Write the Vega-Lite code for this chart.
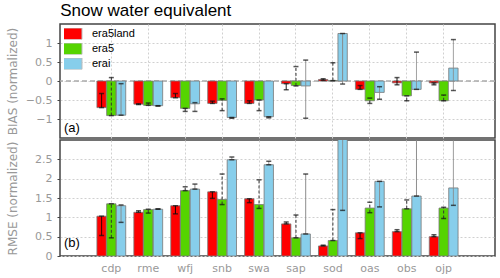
{
  "$schema": "https://vega.github.io/schema/vega-lite/v6.json",
  "padding": {"left": 5, "top": 2, "right": 4, "bottom": 4},
  "title": {"text": "Snow water equivalent", "anchor": "start", "font": "Liberation Sans", "fontSize": 17, "fontWeight": "normal", "color": "#000", "offset": 3, "dx": 55},
  "datasets": {
    "bias": [
      {"site": "cdp", "model": "era5land", "value": -0.70, "lo": -0.70, "hi": -0.33},
      {"site": "cdp", "model": "era5", "value": -0.91, "lo": -0.91, "hi": 0.09},
      {"site": "cdp", "model": "erai", "value": -0.90, "lo": -0.90, "hi": -0.07},
      {"site": "rme", "model": "era5land", "value": -0.61, "lo": -0.62, "hi": -0.60},
      {"site": "rme", "model": "era5", "value": -0.64, "lo": -0.64, "hi": -0.58},
      {"site": "rme", "model": "erai", "value": -0.65, "lo": -0.66, "hi": -0.65},
      {"site": "wfj", "model": "era5land", "value": -0.44, "lo": -0.44, "hi": -0.33},
      {"site": "wfj", "model": "era5", "value": -0.72, "lo": -0.80, "hi": -0.72},
      {"site": "wfj", "model": "erai", "value": -0.60, "lo": -0.80, "hi": -0.57},
      {"site": "snb", "model": "era5land", "value": -0.59, "lo": -0.59, "hi": -0.53},
      {"site": "snb", "model": "era5", "value": -0.51, "lo": -0.78, "hi": -0.47},
      {"site": "snb", "model": "erai", "value": -0.96, "lo": -0.98, "hi": -0.96},
      {"site": "swa", "model": "era5land", "value": -0.59, "lo": -0.59, "hi": -0.52},
      {"site": "swa", "model": "era5", "value": -0.50, "lo": -0.78, "hi": -0.50},
      {"site": "swa", "model": "erai", "value": -0.94, "lo": -0.97, "hi": -0.94},
      {"site": "sap", "model": "era5land", "value": -0.07, "lo": -0.23, "hi": -0.07},
      {"site": "sap", "model": "era5", "value": -0.12, "lo": -0.13, "hi": 0.38},
      {"site": "sap", "model": "erai", "value": -0.13, "lo": -0.98, "hi": 0.55},
      {"site": "sod", "model": "era5land", "value": 0.04, "lo": 0.02, "hi": 0.06},
      {"site": "sod", "model": "era5", "value": 0.01, "lo": 0.01, "hi": 0.48},
      {"site": "sod", "model": "erai", "value": 1.25, "lo": -0.08, "hi": 1.25},
      {"site": "oas", "model": "era5land", "value": -0.22, "lo": -0.22, "hi": -0.12},
      {"site": "oas", "model": "era5", "value": -0.52, "lo": -0.59, "hi": -0.45},
      {"site": "oas", "model": "erai", "value": -0.30, "lo": -0.48, "hi": -0.15},
      {"site": "obs", "model": "era5land", "value": -0.05, "lo": -0.10, "hi": 0.09},
      {"site": "obs", "model": "era5", "value": -0.39, "lo": -0.52, "hi": -0.39},
      {"site": "obs", "model": "erai", "value": -0.22, "lo": -0.22, "hi": 0.76},
      {"site": "ojp", "model": "era5land", "value": -0.05, "lo": -0.10, "hi": -0.05},
      {"site": "ojp", "model": "era5", "value": -0.52, "lo": -0.52, "hi": -0.37},
      {"site": "ojp", "model": "erai", "value": 0.34, "lo": -0.25, "hi": 1.09}
    ],
    "rmse": [
      {"site": "cdp", "model": "era5land", "value": 1.03, "lo": 0.53, "hi": 1.03},
      {"site": "cdp", "model": "era5", "value": 1.35, "lo": 0.47, "hi": 1.35},
      {"site": "cdp", "model": "erai", "value": 1.30, "lo": 0.87, "hi": 1.32},
      {"site": "rme", "model": "era5land", "value": 1.13, "lo": 1.13, "hi": 1.17},
      {"site": "rme", "model": "era5", "value": 1.20, "lo": 1.11, "hi": 1.21},
      {"site": "rme", "model": "erai", "value": 1.21, "lo": 1.21, "hi": 1.22},
      {"site": "wfj", "model": "era5land", "value": 1.30, "lo": 1.09, "hi": 1.30},
      {"site": "wfj", "model": "era5", "value": 1.69, "lo": 1.69, "hi": 1.79},
      {"site": "wfj", "model": "erai", "value": 1.73, "lo": 1.73, "hi": 1.86},
      {"site": "snb", "model": "era5land", "value": 1.66, "lo": 1.49, "hi": 1.66},
      {"site": "snb", "model": "era5", "value": 1.46, "lo": 1.33, "hi": 2.12},
      {"site": "snb", "model": "erai", "value": 2.49, "lo": 2.49, "hi": 2.56},
      {"site": "swa", "model": "era5land", "value": 1.48, "lo": 1.38, "hi": 1.48},
      {"site": "swa", "model": "era5", "value": 1.33, "lo": 1.23, "hi": 1.97},
      {"site": "swa", "model": "erai", "value": 2.36, "lo": 2.36, "hi": 2.45},
      {"site": "sap", "model": "era5land", "value": 0.83, "lo": 0.83, "hi": 0.88},
      {"site": "sap", "model": "era5", "value": 0.47, "lo": 0.47, "hi": 1.06},
      {"site": "sap", "model": "erai", "value": 0.57, "lo": 0.57, "hi": 2.12},
      {"site": "sod", "model": "era5land", "value": 0.26, "lo": 0.26, "hi": 0.28},
      {"site": "sod", "model": "era5", "value": 0.40, "lo": 0.40, "hi": 1.20},
      {"site": "sod", "model": "erai", "value": 3.5, "lo": 1.18, "hi": 3.8},
      {"site": "oas", "model": "era5land", "value": 0.60, "lo": 0.45, "hi": 0.60},
      {"site": "oas", "model": "era5", "value": 1.24, "lo": 1.12, "hi": 1.39},
      {"site": "oas", "model": "erai", "value": 1.93, "lo": 1.27, "hi": 1.93},
      {"site": "obs", "model": "era5land", "value": 0.63, "lo": 0.63, "hi": 0.68},
      {"site": "obs", "model": "era5", "value": 1.22, "lo": 1.22, "hi": 1.45},
      {"site": "obs", "model": "erai", "value": 1.55, "lo": 1.55, "hi": 3.5},
      {"site": "ojp", "model": "era5land", "value": 0.50, "lo": 0.50, "hi": 0.55},
      {"site": "ojp", "model": "era5", "value": 1.24, "lo": 0.97, "hi": 1.26},
      {"site": "ojp", "model": "erai", "value": 1.76, "lo": 1.31, "hi": 3.5}
    ]
  },
  "spacing": 0,
  "resolve": {"scale": {"fill": "independent"}, "legend": {"fill": "independent"}},
  "vconcat": [
    {
      "width": 435,
      "height": 114,
      "data": {"name": "bias"},
      "title": {"text": "(a)", "orient": "bottom", "anchor": "start", "frame": "group", "offset": -16, "dx": 4, "font": "Liberation Sans", "fontSize": 13, "fontWeight": "normal", "color": "#000"},
      "layer": [
        {
          "data": {"values": [{"z": 0}]},
          "mark": {"type": "rule", "color": "#aaa", "strokeWidth": 1.5, "strokeDash": [5, 3]},
          "encoding": {"y": {"field": "z", "type": "quantitative", "title": "BIAS (normalized)", "axis": {"title": "BIAS (normalized)", "values": [-1, -0.5, 0, 0.5, 1], "format": "~g"}}}
        },
        {
          "mark": {"type": "bar", "stroke": "#777", "strokeWidth": 0.8, "clip": true},
          "encoding": {
            "x": {"field": "site", "type": "nominal", "sort": ["cdp","rme","wfj","snb","swa","sap","sod","oas","obs","ojp"], "scale": {"paddingInner": 0.22, "paddingOuter": 1.6}, "axis": {"title": null, "labels": false, "ticks": false, "domain": false, "grid": true}},
            "xOffset": {"field": "model", "type": "nominal", "sort": ["era5land","era5","erai"], "scale": {"paddingInner": 0.04}},
            "y": {"field": "value", "type": "quantitative", "scale": {"domain": [-1.5, 1.5], "nice": false}, "axis": {"title": "BIAS (normalized)", "values": [-1, -0.5, 0, 0.5, 1], "format": "~g", "grid": true, "tickSize": 3, "labelPadding": 5, "minExtent": 38, "maxExtent": 38, "titlePadding": 3}},
            "fill": {"field": "model", "type": "nominal", "scale": {"domain": ["era5land","era5","erai"], "range": ["#ff0000","#55d400","#87ceeb"]}, "legend": {"orient": "top-left", "offset": 4, "title": null, "symbolType": "M-2,-1H2V1H-2Z", "symbolSize": 132, "symbolStrokeColor": "#bbb", "symbolStrokeWidth": 1, "labelFont": "Liberation Sans", "labelFontSize": 11, "labelColor": "#000", "labelOffset": 15, "rowPadding": 2, "clipHeight": 11.5, "padding": 0}}
          }
        },
        {
          "mark": {"type": "rule", "strokeWidth": 1, "clip": true},
          "encoding": {
            "x": {"field": "site", "type": "nominal", "sort": ["cdp","rme","wfj","snb","swa","sap","sod","oas","obs","ojp"]},
            "xOffset": {"field": "model", "type": "nominal", "sort": ["era5land","era5","erai"]},
            "y": {"field": "lo", "type": "quantitative", "title": "BIAS (normalized)", "axis": {"title": "BIAS (normalized)", "values": [-1, -0.5, 0, 0.5, 1], "format": "~g"}},
            "y2": {"field": "hi"},
            "stroke": {"field": "model", "type": "nominal", "scale": {"domain": ["era5land","era5","erai"], "range": ["#000","#333","#888"]}, "legend": null},
            "strokeDash": {"field": "model", "type": "nominal", "scale": {"domain": ["era5land","era5","erai"], "range": [[1,0],[3,2],[1,0]]}, "legend": null}
          }
        },
        {
          "mark": {"type": "tick", "color": "#111", "thickness": 1.5, "size": 5, "clip": true},
          "encoding": {
            "x": {"field": "site", "type": "nominal", "sort": ["cdp","rme","wfj","snb","swa","sap","sod","oas","obs","ojp"]},
            "xOffset": {"field": "model", "type": "nominal", "sort": ["era5land","era5","erai"]},
            "y": {"field": "lo", "type": "quantitative", "title": "BIAS (normalized)", "axis": {"title": "BIAS (normalized)", "values": [-1, -0.5, 0, 0.5, 1], "format": "~g"}}
          }
        },
        {
          "mark": {"type": "tick", "color": "#111", "thickness": 1.5, "size": 5, "clip": true},
          "encoding": {
            "x": {"field": "site", "type": "nominal", "sort": ["cdp","rme","wfj","snb","swa","sap","sod","oas","obs","ojp"]},
            "xOffset": {"field": "model", "type": "nominal", "sort": ["era5land","era5","erai"]},
            "y": {"field": "hi", "type": "quantitative", "title": "BIAS (normalized)", "axis": {"title": "BIAS (normalized)", "values": [-1, -0.5, 0, 0.5, 1], "format": "~g"}}
          }
        }
      ]
    },
    {
      "width": 435,
      "height": 116,
      "data": {"name": "rmse"},
      "title": {"text": "(b)", "orient": "bottom", "anchor": "start", "frame": "group", "offset": -36, "dx": 4, "font": "Liberation Sans", "fontSize": 13, "fontWeight": "normal", "color": "#000"},
      "layer": [
        {
          "mark": {"type": "bar", "stroke": "#777", "strokeWidth": 0.8, "clip": true},
          "encoding": {
            "x": {"field": "site", "type": "nominal", "sort": ["cdp","rme","wfj","snb","swa","sap","sod","oas","obs","ojp"], "scale": {"paddingInner": 0.22, "paddingOuter": 1.6}, "axis": {"title": null, "labelAngle": 0, "labelFontSize": 11, "labelPadding": 6, "ticks": false, "domain": false, "grid": true}},
            "xOffset": {"field": "model", "type": "nominal", "sort": ["era5land","era5","erai"], "scale": {"paddingInner": 0.04}},
            "y": {"field": "value", "type": "quantitative", "scale": {"domain": [0, 3], "nice": false}, "axis": {"title": "RMSE (normalized)", "values": [0, 0.5, 1, 1.5, 2, 2.5], "format": "~g", "grid": true, "tickSize": 3, "labelPadding": 5, "minExtent": 38, "maxExtent": 38, "titlePadding": 3}},
            "fill": {"field": "model", "type": "nominal", "scale": {"domain": ["era5land","era5","erai"], "range": ["#ff0000","#55d400","#87ceeb"]}, "legend": null}
          }
        },
        {
          "mark": {"type": "rule", "strokeWidth": 1, "clip": true},
          "encoding": {
            "x": {"field": "site", "type": "nominal", "sort": ["cdp","rme","wfj","snb","swa","sap","sod","oas","obs","ojp"]},
            "xOffset": {"field": "model", "type": "nominal", "sort": ["era5land","era5","erai"]},
            "y": {"field": "lo", "type": "quantitative", "title": "RMSE (normalized)", "axis": {"title": "RMSE (normalized)", "values": [0, 0.5, 1, 1.5, 2, 2.5], "format": "~g"}},
            "y2": {"field": "hi"},
            "stroke": {"field": "model", "type": "nominal", "scale": {"domain": ["era5land","era5","erai"], "range": ["#000","#333","#888"]}, "legend": null},
            "strokeDash": {"field": "model", "type": "nominal", "scale": {"domain": ["era5land","era5","erai"], "range": [[1,0],[3,2],[1,0]]}, "legend": null}
          }
        },
        {
          "mark": {"type": "tick", "color": "#111", "thickness": 1.5, "size": 5, "clip": true},
          "encoding": {
            "x": {"field": "site", "type": "nominal", "sort": ["cdp","rme","wfj","snb","swa","sap","sod","oas","obs","ojp"]},
            "xOffset": {"field": "model", "type": "nominal", "sort": ["era5land","era5","erai"]},
            "y": {"field": "lo", "type": "quantitative", "title": "RMSE (normalized)", "axis": {"title": "RMSE (normalized)", "values": [0, 0.5, 1, 1.5, 2, 2.5], "format": "~g"}}
          }
        },
        {
          "mark": {"type": "tick", "color": "#111", "thickness": 1.5, "size": 5, "clip": true},
          "encoding": {
            "x": {"field": "site", "type": "nominal", "sort": ["cdp","rme","wfj","snb","swa","sap","sod","oas","obs","ojp"]},
            "xOffset": {"field": "model", "type": "nominal", "sort": ["era5land","era5","erai"]},
            "y": {"field": "hi", "type": "quantitative", "title": "RMSE (normalized)", "axis": {"title": "RMSE (normalized)", "values": [0, 0.5, 1, 1.5, 2, 2.5], "format": "~g"}}
          }
        }
      ]
    }
  ],
  "config": {
    "view": {"stroke": "#444", "strokeWidth": 1.5},
    "axis": {"labelColor": "#999", "titleColor": "#999", "labelFont": "DejaVu Sans", "titleFont": "DejaVu Sans", "titleFontWeight": "normal", "labelFontSize": 11, "titleFontSize": 12, "gridColor": "#d0d0d0", "gridDash": [2, 2], "domain": false, "tickColor": "#444", "labelOverlap": false}
  }
}
